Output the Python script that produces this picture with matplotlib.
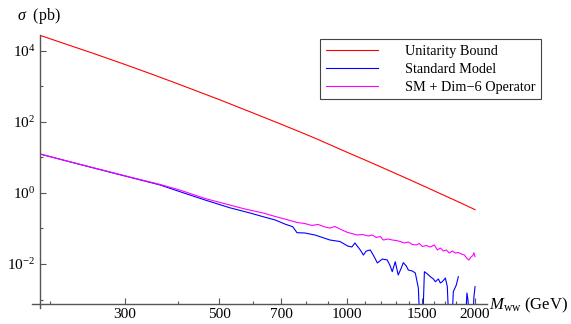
import numpy as np
import matplotlib
matplotlib.use("Agg")
import matplotlib.pyplot as plt

plt.rcParams["font.family"] = ["Liberation Serif", "DejaVu Serif"]
plt.rcParams["mathtext.fontset"] = "custom"
plt.rcParams["mathtext.rm"] = "Liberation Serif"
plt.rcParams["mathtext.it"] = "Liberation Serif:italic"

# unitarity bound (pb) vs M_ww (GeV)
mass_ub = [190, 220, 250, 300, 350, 400, 450, 500, 600, 700, 800, 850, 1000, 1100,
           1200, 1400, 1550, 1700, 1850, 2000]
sigma_ub = [2.72e4, 1.5e4, 8.95e3, 4.17e3, 2.14e3, 1.18e3, 691, 428, 180, 86.1, 44.8,
            33.0, 14.0, 8.57, 5.43, 2.40, 1.38, 0.834, 0.526, 0.339]

# standard model (gaps / off-scale bins kept as read)
nan = np.nan
mass_sm = [189, 262, 363, 404, 463, 529, 591, 634, 677, 713, 745, 762, 795, 840, 911,
           962, 1003, 1026, 1043, 1074, 1092, 1109, 1134, 1159, 1178, 1210, 1243, 1263,
           1277, 1298, 1319, 1341, 1356, 1378, 1393, 1424, 1447, 1471, 1487, 1503, 1520,
           1545, 1570, 1596, 1613, 1640, 1657, 1675, 1703, 1721, 1740, 1759, 1778, 1807,
           1827, 1857, 1893, 1914, 1925, 1946, 1967, 1988, 2000]
sigma_sm = [12.6, 4.55, 1.68, 1.09, 0.635, 0.385, 0.273, 0.215, 0.174, 0.134, 0.112,
            0.0762, 0.0747, 0.0656, 0.0474, 0.0430, 0.0321, 0.0301, 0.0391, 0.0248,
            0.0179, 0.0232, 0.0248, 0.0157, 0.0107, 0.0138, 0.0130, 0.00879, 0.00607,
            0.0116, 0.00490, 0.00771, 0.0109, 0.00879, 0.00678, 0.00635, 0.00557,
            0.00211, 1e-4, 1e-4, 0.00607, 0.00523, 0.00439, 0.00378, 0.00317, 0.00378,
            0.00292, 0.00317, 0.00403, 0.00230, 1e-4, 1e-4, 0.00166, 0.00256, 0.00439,
            nan, 1e-4, 0.00153, 0.00097, 1e-4, 1e-4, 0.00118, 0.00230]

# SM + dim-6 operator
mass_d6 = [189, 222, 262, 308, 363, 404, 463, 529, 575, 634, 677, 713, 762, 795, 826,
           854, 887, 911, 936, 962, 1003, 1026, 1055, 1086, 1122, 1146, 1171, 1197, 1217,
           1250, 1277, 1305, 1334, 1363, 1393, 1424, 1455, 1479, 1503, 1536, 1570, 1604,
           1631, 1657, 1684, 1712, 1740, 1768, 1797, 1827, 1857, 1888, 1914, 1935, 1956,
           1977, 1988, 2000]
sigma_d6 = [12.6, 7.62, 4.62, 2.82, 1.74, 1.21, 0.70, 0.459, 0.354, 0.273, 0.218, 0.185,
            0.148, 0.138, 0.122, 0.130, 0.110, 0.103, 0.114, 0.0968, 0.0771, 0.0723,
            0.0656, 0.0678, 0.0615, 0.0656, 0.0558, 0.0596, 0.0474, 0.0506, 0.0474,
            0.0459, 0.0430, 0.0391, 0.0417, 0.0354, 0.0343, 0.0378, 0.0311, 0.0332,
            0.0301, 0.0343, 0.0248, 0.0282, 0.0232, 0.0248, 0.0204, 0.0232, 0.0204,
            0.0211, 0.0191, 0.0179, 0.0143, 0.0130, 0.0157, 0.0174, 0.0208, 0.0161]

x_major = [300, 500, 700, 1000, 1500, 2000]
x_minor = [200, 400, 600, 800, 900, 1100, 1200, 1300, 1400, 1600, 1700, 1800, 1900]
y_major = [1e-2, 1, 1e2, 1e4]
y_labels = [r"$10^{-2}$", r"$10^{0}$", r"$10^{2}$", r"$10^{4}$"]
y_minor = [1e-3, 1e-1, 10, 1e3]

fig = plt.figure(figsize=(5.71, 3.24), dpi=100)
ax = fig.add_axes([40 / 571, 20 / 324, 447 / 571, 269 / 324])

ax.plot(mass_ub, sigma_ub, color="#ff0000", lw=0.8, label="Unitarity Bound")
ax.plot(mass_sm, sigma_sm, color="#0000ff", lw=0.8, label="Standard Model")
ax.plot(mass_d6, sigma_d6, color="#ff00ff", lw=0.8, label="SM + Dim\u22126 Operator")

ax.set_xscale("log")
ax.set_yscale("log")
ax.set_xlim(189.3, 2134)
ax.set_ylim(7.47e-4, 2.82e4)

ax.set_xticks(x_major)
ax.set_xticklabels([str(v) for v in x_major])
ax.set_xticks(x_minor, minor=True)
ax.set_xticklabels([], minor=True)
ax.set_yticks(y_major)
ax.set_yticklabels(y_labels)
ax.set_yticks(y_minor, minor=True)
ax.set_yticklabels([], minor=True)

axis_col = "#555555"
for s in ax.spines.values():
    s.set_visible(False)
ax.plot([-0.018, 1], [0, 0], color=axis_col, lw=1.0, transform=ax.transAxes, clip_on=False)
ax.plot([0, 0], [-0.015, 1], color=axis_col, lw=1.0, transform=ax.transAxes, clip_on=False)
ax.tick_params(which="both", direction="in", color=axis_col, width=0.8, labelsize=11)
ax.tick_params(which="major", length=4)
ax.tick_params(which="minor", length=2.5)
ax.tick_params(axis="x", pad=3)
ax.tick_params(axis="y", pad=3.5)

fig.text(17 / 571, 1 - 16 / 324, r"$\sigma$  (pb)", fontsize=11.5, va="center")
fig.text(489 / 571, 1 - 305 / 324, r"$M_{\rm ww}$ (GeV)", fontsize=12, va="center")

leg = ax.legend(loc="upper right", bbox_to_anchor=(541 / 571, 1 - 39 / 324),
                bbox_transform=fig.transFigure, fontsize=10.3, frameon=True,
                fancybox=False, framealpha=1, edgecolor="#444444",
                handlelength=3.6, handletextpad=1.9, labelspacing=0.35,
                borderpad=0.4, borderaxespad=0)
leg.get_frame().set_linewidth(0.8)

fig.savefig("out.png", dpi=100)
